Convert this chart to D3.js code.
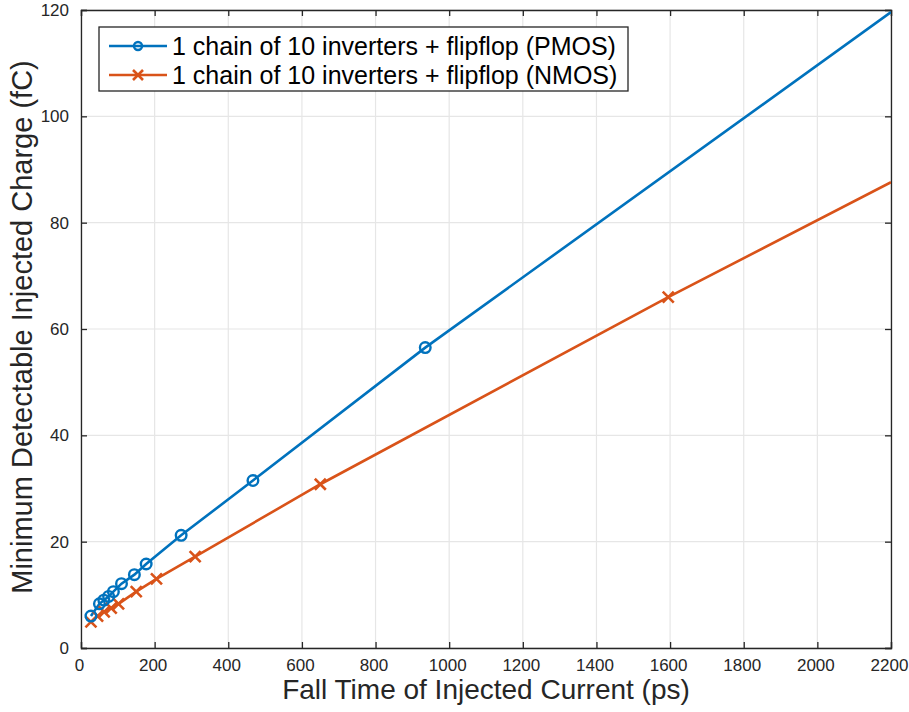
<!DOCTYPE html>
<html><head><meta charset="utf-8">
<script src="https://cdn.jsdelivr.net/npm/d3@7"></script>
<style>body{margin:0;background:#fff;}svg{font-family:"Liberation Sans",Arial,Helvetica,sans-serif;}</style>
</head><body>
<svg id="c" width="909" height="712"></svg>
<script>
const xTicks = [0,200,400,600,800,1000,1200,1400,1600,1800,2000,2200];
const yTicks = [0,20,40,60,80,100,120];
const pmosLabel = "1 chain of 10 inverters + flipflop (PMOS)";
const nmosLabel = "1 chain of 10 inverters + flipflop (NMOS)";
const pmosX = [27,50,62,75,88,110,145,177,272,467,935];
const pmosY = [6.0,8.3,9.0,9.7,10.6,12.1,13.8,15.8,21.2,31.5,56.5];
const nmosX = [27,45,63,82,102,150,205,310,650,1595];
const nmosY = [4.9,6.0,6.8,7.5,8.3,10.6,13.0,17.2,30.8,66.0];
// value where each line leaves the plot at the right edge
const pmosEdge = [2200,119.6];
const nmosEdge = [2200,87.6];

const svg = d3.select("#c");
const L=81,R=891,T=10,B=648;
const x = d3.scaleLinear().domain([0,2200]).range([L,R]);
const y = d3.scaleLinear().domain([0,120]).range([B,T]);
const axisCol="#262626";

// grid
svg.append("g").selectAll("line").data(xTicks).join("line")
  .attr("x1",d=>x(d)).attr("x2",d=>x(d)).attr("y1",T).attr("y2",B)
  .attr("stroke","#e6e6e6").attr("stroke-width",1.2);
svg.append("g").selectAll("line").data(yTicks).join("line")
  .attr("y1",d=>y(d)).attr("y2",d=>y(d)).attr("x1",L).attr("x2",R)
  .attr("stroke","#e6e6e6").attr("stroke-width",1.2);

// axes
const gx = svg.append("g").attr("transform",`translate(0,${B})`)
  .call(d3.axisBottom(x).tickValues(xTicks).tickSize(-6).tickPadding(11).tickFormat(d3.format("d")));
const gy = svg.append("g").attr("transform",`translate(${L},0)`)
  .call(d3.axisLeft(y).tickValues(yTicks).tickSize(-6).tickPadding(12).tickFormat(d3.format("d")));
const gx2 = svg.append("g").attr("transform",`translate(0,${T})`)
  .call(d3.axisTop(x).tickValues(xTicks).tickSize(-6).tickFormat(""));
const gy2 = svg.append("g").attr("transform",`translate(${R},0)`)
  .call(d3.axisRight(y).tickValues(yTicks).tickSize(-6).tickFormat(""));
[gx,gy,gx2,gy2].forEach(g=>{
  g.select(".domain").attr("stroke",axisCol).attr("stroke-width",1.3);
  g.selectAll(".tick line").attr("stroke",axisCol).attr("stroke-width",1.3);
  g.selectAll("text").attr("fill","#262626").style("font-size","17px");
});
gx.selectAll(".tick text").attr("dx",-2);

// clip
svg.append("clipPath").attr("id","clip").append("rect").attr("x",L).attr("y",T).attr("width",R-L).attr("height",B-T);

const line = d3.line().x(d=>x(d[0])).y(d=>y(d[1]));
const pmos = pmosX.map((v,i)=>[v,pmosY[i]]);
const nmos = nmosX.map((v,i)=>[v,nmosY[i]]);
const blue="#0072BD", orange="#D95319";

svg.append("path").attr("d",line(nmos.concat([nmosEdge]))).attr("fill","none").attr("stroke",orange).attr("stroke-width",2.6).attr("clip-path","url(#clip)");
svg.append("path").attr("d",line(pmos.concat([pmosEdge]))).attr("fill","none").attr("stroke",blue).attr("stroke-width",2.6).attr("clip-path","url(#clip)");

const s=5.5;
function cross(g,cx,cy,col){
  g.append("path").attr("d",`M${cx-s},${cy-s}L${cx+s},${cy+s}M${cx-s},${cy+s}L${cx+s},${cy-s}`)
   .attr("stroke",col).attr("stroke-width",2.6).attr("fill","none");
}
const gn = svg.append("g");
nmos.forEach(d=>cross(gn,x(d[0]),y(d[1]),orange));
svg.append("g").selectAll("circle").data(pmos).join("circle")
  .attr("cx",d=>x(d[0])).attr("cy",d=>y(d[1])).attr("r",5.3)
  .attr("fill","none").attr("stroke",blue).attr("stroke-width",2.4);

// labels
svg.append("text").attr("x",(L+R)/2).attr("y",699).attr("text-anchor","middle")
  .style("font-size","28px").attr("fill","#262626").text("Fall Time of Injected Current (ps)");
svg.append("text").attr("transform",`translate(32,${(T+B)/2-2}) rotate(-90)`).attr("text-anchor","middle")
  .style("font-size","29px").attr("fill","#262626").text("Minimum Detectable Injected Charge (fC)");

// legend
const lg = svg.append("g");
lg.append("rect").attr("x",99).attr("y",27).attr("width",529).attr("height",64)
  .attr("fill","#fff").attr("stroke",axisCol).attr("stroke-width",1.3);
[[pmosLabel,blue,"o",46],[nmosLabel,orange,"x",75]].forEach(([t,c,m,yy])=>{
  lg.append("line").attr("x1",109).attr("x2",167).attr("y1",yy).attr("y2",yy).attr("stroke",c).attr("stroke-width",2.6);
  if(m==="o") lg.append("circle").attr("cx",138).attr("cy",yy).attr("r",4).attr("fill","none").attr("stroke",c).attr("stroke-width",2.4);
  else { const s2=5; lg.append("path").attr("d",`M${138-s2},${yy-s2}L${138+s2},${yy+s2}M${138-s2},${yy+s2}L${138+s2},${yy-s2}`).attr("stroke",c).attr("stroke-width",2.6); }
  lg.append("text").attr("x",172).attr("y",yy+9).style("font-size","25px").attr("fill","#000").text(t);
});
</script>
</body></html>
